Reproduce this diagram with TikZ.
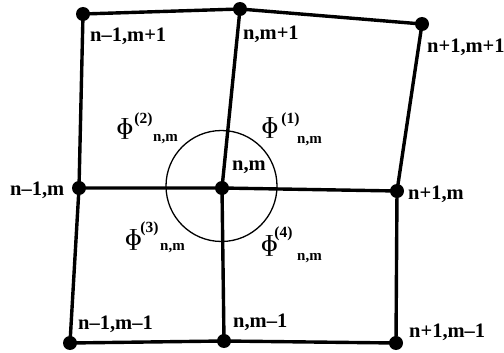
\documentclass[tikz,border=0pt]{standalone}
\usepackage{fontspec}
\setmainfont{Liberation Serif}
\newcommand{\phig}{\scalebox{1.35}[1]{ɸ}}
\begin{document}
\begin{tikzpicture}[x=1pt,y=-1pt,
  vert/.style={circle,fill=black,inner sep=0pt,minimum size=14pt},
  grid/.style={line width=3.4pt},
  lab/.style={anchor=base west,inner sep=0pt,font=\fontsize{20.5}{22}\selectfont\bfseries},
  phisym/.style={anchor=center,inner sep=0pt,font=\fontsize{23}{24}\selectfont},
  phisup/.style={anchor=center,inner sep=0pt,font=\fontsize{15.5}{17}\selectfont\bfseries},
  phisub/.style={anchor=base west,inner sep=0pt,font=\fontsize{15}{17}\selectfont\bfseries}]
\useasboundingbox (0,0) rectangle (504,353);
% circle
\draw[line width=1.3pt] (221.5,186) circle[radius=55.5pt];
% vertices
\coordinate (a) at (83,14);
\coordinate (b) at (240,9);
\coordinate (c) at (422,24);
\coordinate (d) at (79,188);
\coordinate (e) at (222,188);
\coordinate (f) at (397,191);
\coordinate (g) at (70,343);
\coordinate (h) at (224,341);
\coordinate (i) at (396,343);
\draw[grid] (a) -- (b) -- (c);
\draw[grid] (d) -- (e) -- (f);
\draw[grid] (g) -- (h) -- (i);
\draw[grid] (a) -- (d) -- (g);
\draw[grid] (b) -- (e) -- (h);
\draw[grid] (c) -- (f) -- (i);
\foreach \p in {a,b,c,d,e,f,g,h,i} \node[vert] (v\p) at (\p) {};
% labels
\node[lab] (la) at (90,42) {n–1,m+1};
\node[lab] (lb) at (243,40) {n,m+1};
\node[lab] (lc) at (427,53) {n+1,m+1};
\node[lab] (le) at (232,170) {n,m};
\node[lab] (ld) at (10,195) {n–1,m};
\node[lab] (lf) at (408,199) {n+1,m};
\node[lab] (lg) at (78,329) {n–1,m–1};
\node[lab] (lh) at (233,327) {n,m–1};
\node[lab] (li) at (409,337) {n+1,m–1};
% phi labels
\node[phisym] (p2) at (125,129) {\phig};
\node[phisup] (s2) at (143.5,120) {(2)};
\node[phisub] (t2) at (153,142) {n,m};
\node[phisym] (p1) at (270,128) {\phig};
\node[phisup] (s1) at (290.5,120) {(1)};
\node[phisub] (t1) at (297,143) {n,m};
\node[phisym] (p3) at (133.5,240) {\phig};
\node[phisup] (s3) at (149.5,229) {(3)};
\node[phisub] (t3) at (160,250) {n,m};
\node[phisym] (p4) at (269.5,246) {\phig};
\node[phisup] (s4) at (283.5,234) {(4)};
\node[phisub] (t4) at (297,260) {n,m};
\end{tikzpicture}
\end{document}
